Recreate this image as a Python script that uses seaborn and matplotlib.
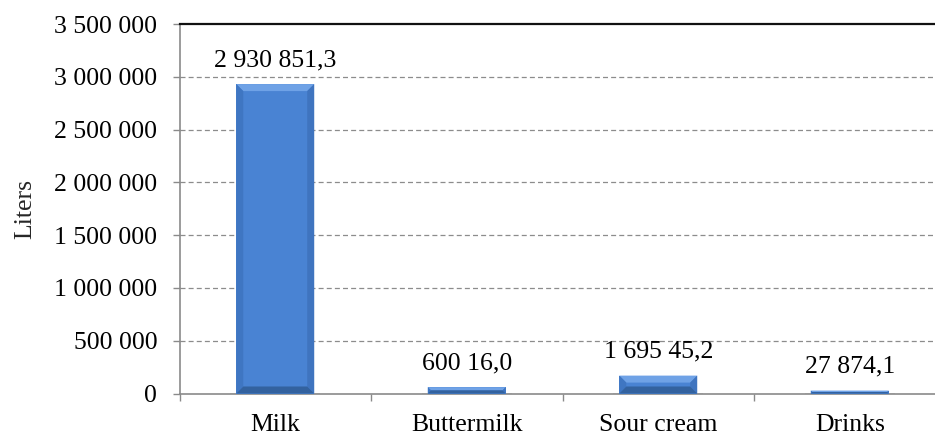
import matplotlib
matplotlib.use("Agg")
import matplotlib.pyplot as plt
from matplotlib.patches import Polygon, Rectangle
from matplotlib.ticker import FuncFormatter, FixedLocator
import seaborn as sns
import pandas as pd

categories = ["Milk", "Buttermilk", "Sour cream", "Drinks"]
values = [2930851.3, 60016.0, 169545.2, 27874.1]
value_labels = ["2 930 851,3", "600 16,0", "1 695 45,2", "27 874,1"]
y_ticks = [0, 500000, 1000000, 1500000, 2000000, 2500000, 3000000, 3500000]
y_title = "Liters"

sns.set_theme(style="white")
plt.rcParams["font.family"] = ["Liberation Serif", "DejaVu Serif"]

FS = 18.5

df = pd.DataFrame({"category": categories, "value": values})

fig = plt.figure(figsize=(9.35, 4.37), dpi=100)
# the plot area runs a little past the right edge of the canvas
ax = fig.add_axes([179.5 / 935, 43.5 / 437, 766 / 935, 369.5 / 437])

main_color = "#4983d3"
sns.barplot(data=df, x="category", y="value", color=main_color, width=0.407,
            saturation=1, ax=ax, zorder=3, edgecolor="none")

ax.set_ylim(0, 3500000)
ax.set_xlim(-0.5, 3.5)
ax.yaxis.set_major_locator(FixedLocator(y_ticks))
ax.yaxis.set_major_formatter(FuncFormatter(lambda v, p: f"{int(v):,}".replace(",", " ")))

# dashed horizontal gridlines
for t in y_ticks[1:-1]:
    ax.axhline(t, color="#8c8c8c", linestyle=(0, (4, 2.5)), linewidth=0.9, zorder=1)

ax.spines["right"].set_visible(False)
ax.spines["top"].set_color("#111111")
ax.spines["top"].set_linewidth(1.6)
for side in ["left", "bottom"]:
    ax.spines[side].set_color("#8a8a8a")
    ax.spines[side].set_linewidth(1.2)

ax.tick_params(axis="y", direction="out", length=5, width=1.0, color="#8a8a8a",
               labelsize=FS, labelcolor="black", pad=11, left=True)
ax.tick_params(axis="x", which="major", length=0, labelsize=FS, labelcolor="black", pad=15)
ax.set_xticks([-0.5, 0.5, 1.5, 2.5, 3.5], minor=True)
ax.tick_params(axis="x", which="minor", direction="out", length=5, width=1.0,
               color="#8a8a8a", bottom=True)

ax.set_xlabel("")
ax.set_ylabel(y_title, fontsize=FS, labelpad=13)

# value labels above the bars
for i, (v, lab) in enumerate(zip(values, value_labels)):
    ax.annotate(lab, xy=(i, v), xytext=(0, 13), textcoords="offset points",
                ha="center", va="baseline", fontsize=FS, color="black", zorder=5)

# bevel shading on each bar, in pixel coordinates
fig.canvas.draw()
to_px = ax.transData
for p in ax.patches:
    x0, y0 = p.get_x(), p.get_y()
    x1, y1 = x0 + p.get_width(), y0 + p.get_height()
    (px0, py0) = to_px.transform((x0, y0))
    (px1, py1) = to_px.transform((x1, y1))
    h = py1 - py0
    b = min(7.0, h / 2.0)
    # soft shadow at the base
    ax.add_patch(Rectangle((px0 - 6, py0 - 2), (px1 - px0) + 12, 3.0,
                           transform=None, facecolor="#a0a0a0", alpha=0.35,
                           edgecolor="none", zorder=2))
    ox0, ox1, oy0, oy1 = px0, px1, py0, py1
    ix0, ix1, iy0, iy1 = px0 + b, px1 - b, py0 + b, py1 - b
    faces = [
        ([(ox0, oy1), (ox1, oy1), (ix1, iy1), (ix0, iy1)], "#6fa2e6"),  # top
        ([(ox0, oy0), (ox0, oy1), (ix0, iy1), (ix0, iy0)], "#3f76c2"),  # left
        ([(ox1, oy0), (ox1, oy1), (ix1, iy1), (ix1, iy0)], "#3f74bf"),  # right
        ([(ox0, oy0), (ox1, oy0), (ix1, iy0), (ix0, iy0)], "#33629f"),  # bottom
    ]
    for pts, c in faces:
        ax.add_patch(Polygon(pts, closed=True, transform=None, facecolor=c,
                             edgecolor="none", zorder=4))

fig.savefig("out.png", dpi=100)
